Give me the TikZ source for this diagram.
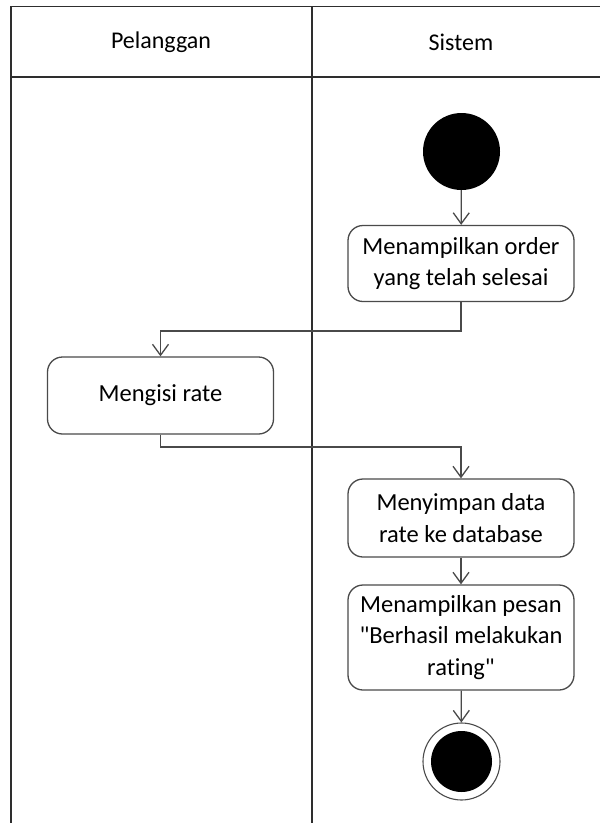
\documentclass[tikz,border=0pt]{standalone}
\usepackage{fontspec}
\setmainfont{Carlito}[Ligatures={NoCommon,TeXOff}]
\usetikzlibrary{arrows.meta}
\definecolor{lane}{HTML}{2E2E2E}
\definecolor{flow}{HTML}{4A4A4A}
\begin{document}
\begin{tikzpicture}[x=1pt,y=-1pt,
  lanes/.style={draw=lane,line width=1.8pt},
  action/.style={draw=flow,line width=1.3pt,rounded corners=15pt,fill=white,
    minimum width=226pt,align=center,inner sep=0pt,
    font=\fontsize{24.5}{31.5}\selectfont},
  flowline/.style={draw=flow,line width=1.3pt,
    -{Straight Barb[length=11pt,width=16pt,line width=1.3pt]}},
  lanetitle/.style={font=\fontsize{24}{28}\selectfont}]
\useasboundingbox (0,0) rectangle (600,823);
\fill[white] (0,0) rectangle (600,823);

% swimlane frame
\draw[lanes] (11,823) -- (11,6.5) -- (600,6.5);
\draw[lanes] (11,77) -- (600,77);
\draw[lanes] (312,6.5) -- (312,823);
\node[lanetitle] (hPel) at (161,42) {Pelanggan};
\node[lanetitle] (hSis) at (461,42) {Sistem};

% start node
\node[circle,fill=black,minimum size=77pt,inner sep=0pt] (start) at (461.5,151.5) {};

% actions
\node[action,minimum height=76pt] (show) at (461,263.5) {Menampilkan order\\yang telah selesai};
\node[action,minimum height=77pt] (rate) at (160.5,395.5) {Mengisi rate};
\node[action,minimum height=78pt] (save) at (461,518) {Menyimpan data\\rate ke database};
\node[action,minimum height=105pt] (msg) at (461,637.5) {Menampilkan pesan\\"Berhasil melakukan\\rating"};

% final node
\node[circle,draw=flow,line width=1.1pt,fill=white,minimum size=77pt,inner sep=0pt] (finish) at (461.5,761.5) {};
\node[circle,fill=black,minimum size=61pt,inner sep=0pt] (finishdot) at (finish) {};

% control flow
\draw[flowline] (start) -- (show);
\draw[flowline] (show.south) |- (160.5,331) -- (rate.north);
\draw[flowline] (rate.south) |- (461,447) -- (save.north);
\draw[flowline] (save) -- (msg);
\draw[flowline] (msg) -- (finish);
\end{tikzpicture}
\end{document}
